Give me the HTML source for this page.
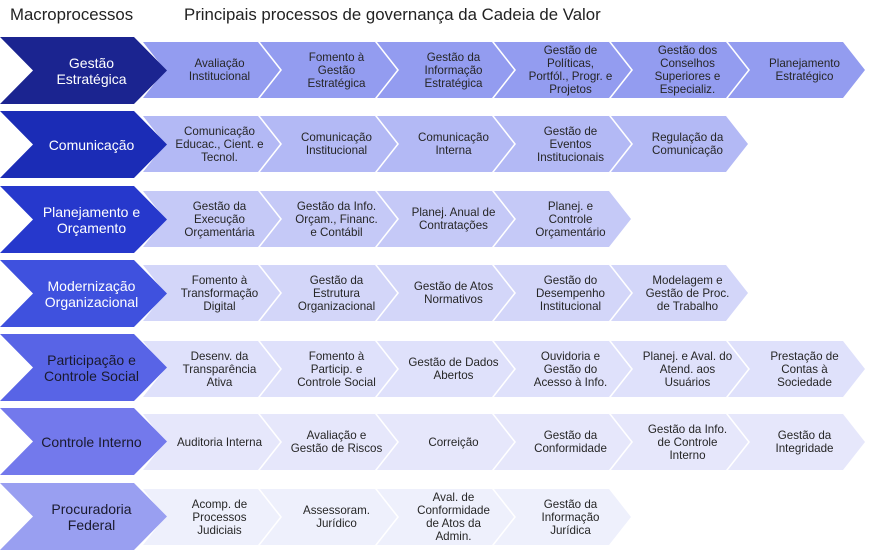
<!DOCTYPE html>
<html><head><meta charset="utf-8"><style>
body{margin:0;width:869px;height:551px;background:#fff;position:relative;overflow:hidden;font-family:"Liberation Sans",sans-serif}
.h{position:absolute;top:5px;font-size:16.8px;color:#222}
.m,.p{position:absolute;display:flex;align-items:center;justify-content:center;text-align:center;box-sizing:border-box}
.m{width:167px;height:67px;left:0;clip-path:polygon(0 0,134px 0,167px 50%,134px 100%,0 100%,33px 50%);font-size:14px;line-height:16px;padding-left:22px;padding-right:6px;z-index:2}
.p{width:137px;height:56px;clip-path:polygon(0 0,115px 0,137px 50%,115px 100%,0 100%,22px 50%);font-size:11.6px;line-height:13px;color:#262626;padding-left:18px;padding-right:2px;white-space:nowrap}
</style></head><body>
<div class="h" style="left:10px">Macroprocessos</div>
<div class="h" style="left:184px">Principais processos de governança da Cadeia de Valor</div>

<div class="m" style="top:37px;background:#1b2490;color:#fff">Gestão<br>Estratégica</div>
<div class="p" style="top:42px;left:143px;background:#939cf0">Avaliação<br>Institucional</div>
<div class="p" style="top:42px;left:260px;background:#939cf0">Fomento à<br>Gestão<br>Estratégica</div>
<div class="p" style="top:42px;left:377px;background:#939cf0">Gestão da<br>Informação<br>Estratégica</div>
<div class="p" style="top:42px;left:494px;background:#939cf0">Gestão de<br>Políticas,<br>Portfól., Progr. e<br>Projetos</div>
<div class="p" style="top:42px;left:611px;background:#939cf0">Gestão dos<br>Conselhos<br>Superiores e<br>Especializ.</div>
<div class="p" style="top:42px;left:728px;background:#939cf0">Planejamento<br>Estratégico</div>

<div class="m" style="top:111px;background:#1b2cb6;color:#fff">Comunicação</div>
<div class="p" style="top:116px;left:143px;background:#b3b9f5">Comunicação<br>Educac., Cient. e<br>Tecnol.</div>
<div class="p" style="top:116px;left:260px;background:#b3b9f5">Comunicação<br>Institucional</div>
<div class="p" style="top:116px;left:377px;background:#b3b9f5">Comunicação<br>Interna</div>
<div class="p" style="top:116px;left:494px;background:#b3b9f5">Gestão de<br>Eventos<br>Institucionais</div>
<div class="p" style="top:116px;left:611px;background:#b3b9f5">Regulação da<br>Comunicação</div>

<div class="m" style="top:186px;background:#2638cc;color:#fff">Planejamento e<br>Orçamento</div>
<div class="p" style="top:191px;left:143px;background:#c5c9f7">Gestão da<br>Execução<br>Orçamentária</div>
<div class="p" style="top:191px;left:260px;background:#c5c9f7">Gestão da Info.<br>Orçam., Financ.<br>e Contábil</div>
<div class="p" style="top:191px;left:377px;background:#c5c9f7">Planej. Anual de<br>Contratações</div>
<div class="p" style="top:191px;left:494px;background:#c5c9f7">Planej. e<br>Controle<br>Orçamentário</div>

<div class="m" style="top:260px;background:#3f51de;color:#fff">Modernização<br>Organizacional</div>
<div class="p" style="top:265px;left:143px;background:#d3d6f9">Fomento à<br>Transformação<br>Digital</div>
<div class="p" style="top:265px;left:260px;background:#d3d6f9">Gestão da<br>Estrutura<br>Organizacional</div>
<div class="p" style="top:265px;left:377px;background:#d3d6f9">Gestão de Atos<br>Normativos</div>
<div class="p" style="top:265px;left:494px;background:#d3d6f9">Gestão do<br>Desempenho<br>Institucional</div>
<div class="p" style="top:265px;left:611px;background:#d3d6f9">Modelagem e<br>Gestão de Proc.<br>de Trabalho</div>

<div class="m" style="top:334px;background:#5864e6;color:#1a1a2e">Participação e<br>Controle Social</div>
<div class="p" style="top:341px;left:143px;background:#dfe1fb">Desenv. da<br>Transparência<br>Ativa</div>
<div class="p" style="top:341px;left:260px;background:#dfe1fb">Fomento à<br>Particip. e<br>Controle Social</div>
<div class="p" style="top:341px;left:377px;background:#dfe1fb">Gestão de Dados<br>Abertos</div>
<div class="p" style="top:341px;left:494px;background:#dfe1fb">Ouvidoria e<br>Gestão do<br>Acesso à Info.</div>
<div class="p" style="top:341px;left:611px;background:#dfe1fb">Planej. e Aval. do<br>Atend. aos<br>Usuários</div>
<div class="p" style="top:341px;left:728px;background:#dfe1fb">Prestação de<br>Contas à<br>Sociedade</div>

<div class="m" style="top:408px;background:#7379ec;color:#1a1a2e">Controle Interno</div>
<div class="p" style="top:414px;left:143px;background:#e6e7fb">Auditoria Interna</div>
<div class="p" style="top:414px;left:260px;background:#e6e7fb">Avaliação e<br>Gestão de Riscos</div>
<div class="p" style="top:414px;left:377px;background:#e6e7fb">Correição</div>
<div class="p" style="top:414px;left:494px;background:#e6e7fb">Gestão da<br>Conformidade</div>
<div class="p" style="top:414px;left:611px;background:#e6e7fb">Gestão da Info.<br>de Controle<br>Interno</div>
<div class="p" style="top:414px;left:728px;background:#e6e7fb">Gestão da<br>Integridade</div>

<div class="m" style="top:483px;background:#999ff1;color:#1a1a2e">Procuradoria<br>Federal</div>
<div class="p" style="top:489px;left:143px;background:#eef0fc">Acomp. de<br>Processos<br>Judiciais</div>
<div class="p" style="top:489px;left:260px;background:#eef0fc">Assessoram.<br>Jurídico</div>
<div class="p" style="top:489px;left:377px;background:#eef0fc">Aval. de<br>Conformidade<br>de Atos da<br>Admin.</div>
<div class="p" style="top:489px;left:494px;background:#eef0fc">Gestão da<br>Informação<br>Jurídica</div>
</body></html>
